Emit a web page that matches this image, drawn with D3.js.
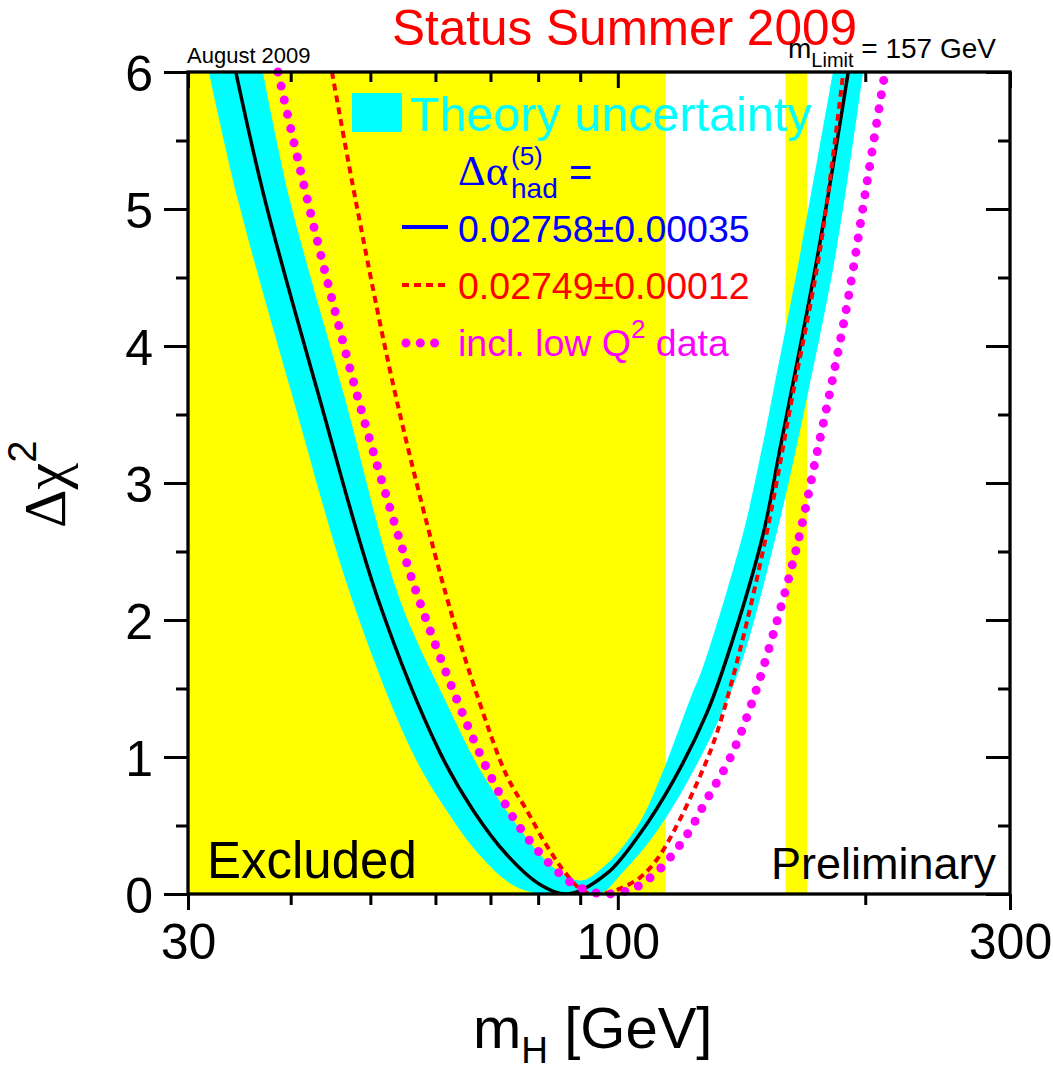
<!DOCTYPE html>
<html>
<head>
<meta charset="utf-8">
<script src="https://cdn.jsdelivr.net/npm/d3@7"></script>
<style>
  html, body { margin: 0; padding: 0; background: #fff; }
  svg { display: block; }
</style>
</head>
<body>
<svg id="chart" width="1053" height="1070"></svg>
<script>
// ---------------- data ----------------
// Direct-search exclusions (GeV)
const excludedFrom = [30, 160];
const excludedTo   = [114.4, 170];

// Theory-uncertainty band: lower and upper envelopes of delta chi^2 vs mH
const bandLowMass  = [31.8, 34.5, 40.3, 47.5, 56.3, 61.9, 67.9, 74.5, 80.7, 95.0, 101.1, 111.0, 121.8, 133.8, 142.0, 157.0, 169.7, 184.5, 198.8];
const bandLowChi2  = [6.0, 5.07, 3.61, 2.15, 1.03, 0.61, 0.285, 0.066, 0.0, 0.0, 0.15, 0.44, 0.83, 1.32, 1.72, 2.70, 3.61, 4.70, 6.0];
const bandHighMass = [37.0, 39.9, 46.6, 54.3, 61.6, 68.0, 75.0, 81.6, 86.7, 90.7, 95.1, 100.6, 106.4, 113.2, 122.4, 127.0, 142.0, 149.6, 153.9, 167.0, 182.7];
const bandHighChi2 = [6.0, 5.07, 3.61, 2.15, 1.42, 0.905, 0.52, 0.25, 0.126, 0.10, 0.175, 0.32, 0.525, 0.88, 1.42, 1.66, 2.63, 3.24, 3.61, 4.70, 6.0];

// Central fit, Delta alpha_had = 0.02758 +- 0.00035
const fitMass = [34.3, 37.2, 43.4, 51.1, 60.8, 66.7, 73.2, 80.4, 87.0, 97.0, 106.4, 116.9, 128.3, 136.0, 150.3, 157.4, 161.9, 175.5, 190.7];
const fitChi2 = [6.0, 5.07, 3.61, 2.15, 1.03, 0.61, 0.29, 0.07, 0.0, 0.15, 0.44, 0.83, 1.32, 1.74, 2.63, 3.24, 3.61, 4.70, 6.0];

// Delta alpha_had = 0.02749 +- 0.00012
const altMass = [44.9, 48.1, 53.8, 61.9, 67.7, 73.3, 77.5, 82.0, 86.7, 90.8, 94.5, 99.7, 106.4, 111.5, 116.8, 125.9, 131.9, 140.8, 151.7, 162.8, 176.2, 188.1];
const altChi2 = [6.0, 5.03, 3.61, 2.17, 1.42, 0.86, 0.61, 0.35, 0.14, 0.02, 0.0, 0.03, 0.12, 0.25, 0.45, 0.86, 1.17, 1.78, 2.63, 3.61, 4.70, 6.0];

// Including low-Q^2 data
const lowQ2Mass = [38.6, 41.0, 44.3, 48.6, 53.8, 57.2, 64.3, 69.9, 75.7, 83.9, 89.6, 96.5, 104.4, 111.5, 120.7, 128.3, 136.9, 145.1, 155.8, 165.8, 174.7, 182.1, 190.7, 200.8, 211.4];
const lowQ2Chi2 = [6.0, 5.31, 4.48, 3.56, 2.66, 2.16, 1.36, 0.87, 0.50, 0.18, 0.05, 0.0, 0.04, 0.16, 0.41, 0.69, 0.99, 1.37, 1.97, 2.58, 3.22, 3.73, 4.35, 5.18, 6.0];

// Axes
const yMajorTicks = [0, 1, 2, 3, 4, 5, 6];
const yMinorTicks = [0.5, 1.5, 2.5, 3.5, 4.5, 5.5];
const xMajorTicks = [30, 100, 300];
const xMinorTicks = [40, 50, 60, 70, 80, 90, 200];
const xTickLabels = ["30", "100", "300"];

// ---------------- drawing ----------------
const sans = "'Liberation Sans', Arial, Helvetica, sans-serif";
const serif = "'Liberation Serif', 'Times New Roman', Times, serif";

const x = d3.scaleLog().domain([30, 300]).range([188, 1010]);
const y = d3.scaleLinear().domain([0, 6]).range([894, 72]);
const [x0, x1] = x.range();
const [y0, y1] = y.range();

const svg = d3.select("#chart");
svg.append("rect").attr("width", 1053).attr("height", 1070).attr("fill", "#fff");

svg.append("defs").append("clipPath").attr("id", "plotClip")
  .append("rect").attr("x", x0).attr("y", y1).attr("width", x1 - x0).attr("height", y0 - y1);

// excluded mass ranges
svg.append("g").selectAll("rect")
  .data(d3.zip(excludedFrom, excludedTo))
  .join("rect")
  .attr("x", d => x(d[0]))
  .attr("width", d => x(d[1]) - x(d[0]))
  .attr("y", y1)
  .attr("height", y0 - y1)
  .attr("fill", "#ffff00");

const curve = d3.line()
  .x(d => x(d[0]))
  .y(d => y(d[1]))
  .curve(d3.curveCatmullRom.alpha(0.5));

const plotG = svg.append("g").attr("clip-path", "url(#plotClip)");

// theory band: lower envelope left->right, then upper envelope right->left
const lowPath = curve(d3.zip(bandLowMass, bandLowChi2));
const highPath = curve(d3.zip(bandHighMass, bandHighChi2).reverse());
plotG.append("path")
  .attr("d", lowPath + highPath.replace(/^M/, "L") + "Z")
  .attr("fill", "#00ffff");

// central fit
plotG.append("path")
  .attr("d", curve(d3.zip(fitMass, fitChi2)))
  .attr("fill", "none")
  .attr("stroke", "#000")
  .attr("stroke-width", 3.5);

// alternative hadronic contribution
plotG.append("path")
  .attr("d", curve(d3.zip(altMass, altChi2)))
  .attr("fill", "none")
  .attr("stroke", "#ff0000")
  .attr("stroke-width", 4)
  .attr("stroke-dasharray", "7 5");

// with low-Q^2 data (round dots)
svg.append("path")
  .attr("d", curve(d3.zip(lowQ2Mass, lowQ2Chi2)))
  .attr("fill", "none")
  .attr("stroke", "#ff00ff")
  .attr("stroke-width", 9)
  .attr("stroke-linecap", "round")
  .attr("stroke-dasharray", "0 14.5");

// frame
svg.append("rect")
  .attr("x", x0).attr("y", y1)
  .attr("width", x1 - x0).attr("height", y0 - y1)
  .attr("fill", "none")
  .attr("stroke", "#000")
  .attr("stroke-width", 3.3);

function styleAxis(g, labelDy) {
  g.select(".domain").remove();
  g.selectAll(".tick line").attr("stroke", "#000").attr("stroke-width", 3);
  g.selectAll(".tick text")
    .attr("fill", "#000")
    .attr("dy", labelDy)
    .style("font-family", sans)
    .style("font-size", "50px");
}

// left axis
svg.append("g").attr("transform", `translate(${x0},0)`)
  .call(d3.axisLeft(y).tickValues(yMajorTicks).tickSize(24).tickPadding(11).tickFormat(d3.format("d")))
  .call(styleAxis, "0.36em");
svg.append("g").attr("transform", `translate(${x0},0)`)
  .call(d3.axisLeft(y).tickValues(yMinorTicks).tickSize(12).tickFormat(""))
  .call(styleAxis, "0");

// right axis (inward ticks)
svg.append("g").attr("transform", `translate(${x1},0)`)
  .call(d3.axisRight(y).tickValues(yMajorTicks).tickSize(-24).tickFormat(""))
  .call(styleAxis, "0");
svg.append("g").attr("transform", `translate(${x1},0)`)
  .call(d3.axisRight(y).tickValues(yMinorTicks).tickSize(-12).tickFormat(""))
  .call(styleAxis, "0");

// bottom axis
svg.append("g").attr("transform", `translate(0,${y0})`)
  .call(d3.axisBottom(x).tickValues(xMajorTicks).tickSize(16).tickPadding(13).tickFormat((d, i) => xTickLabels[i]))
  .call(styleAxis, "0.71em");
svg.append("g").attr("transform", `translate(0,${y0})`)
  .call(d3.axisBottom(x).tickValues(xMinorTicks).tickSize(11).tickFormat(""))
  .call(styleAxis, "0");

// top axis (inward ticks)
svg.append("g").attr("transform", `translate(0,${y1})`)
  .call(d3.axisTop(x).tickValues(xMajorTicks).tickSize(-16).tickFormat(""))
  .call(styleAxis, "0");
svg.append("g").attr("transform", `translate(0,${y1})`)
  .call(d3.axisTop(x).tickValues(xMinorTicks).tickSize(-10).tickFormat(""))
  .call(styleAxis, "0");

// axis titles
const xt = svg.append("text")
  .attr("x", 473).attr("y", 1048)
  .style("font-family", sans).style("font-size", "58px").attr("fill", "#000");
xt.append("tspan").text("m");
xt.append("tspan").attr("dy", 15).style("font-size", "37px").text("H");
xt.append("tspan").attr("dy", -15).text(" [GeV]");

const yt = svg.append("text")
  .attr("transform", "translate(65,528) rotate(-90)")
  .attr("fill", "#000");
yt.append("tspan").style("font-family", serif).style("font-size", "60px").text("Δχ");
yt.append("tspan").attr("dy", -29).style("font-family", sans).style("font-size", "40px").text("2");

// title and annotations
svg.append("text")
  .attr("x", 392).attr("y", 45)
  .style("font-family", sans).style("font-size", "49.5px")
  .attr("fill", "#ff0000")
  .text("Status Summer 2009");

svg.append("text")
  .attr("x", 187).attr("y", 63)
  .style("font-family", sans).style("font-size", "22px")
  .attr("fill", "#000")
  .text("August 2009");

const lim = svg.append("text")
  .attr("x", 788).attr("y", 58)
  .style("font-family", sans).style("font-size", "28px")
  .attr("fill", "#000");
lim.append("tspan").text("m");
lim.append("tspan").attr("dy", 9).style("font-size", "20px").text("Limit");
lim.append("tspan").attr("dy", -9).text(" = 157 GeV");

svg.append("text")
  .attr("x", 207).attr("y", 878)
  .style("font-family", sans).style("font-size", "51px")
  .attr("fill", "#000")
  .text("Excluded");

svg.append("text")
  .attr("x", 771).attr("y", 879)
  .style("font-family", sans).style("font-size", "45px")
  .attr("fill", "#000")
  .text("Preliminary");

// legend
svg.append("rect")
  .attr("x", 352).attr("y", 93).attr("width", 50).attr("height", 39)
  .attr("fill", "#00ffff");
svg.append("text")
  .attr("x", 410).attr("y", 131)
  .style("font-family", sans).style("font-size", "48.5px")
  .attr("fill", "#00ffff")
  .text("Theory uncertainty");

svg.append("text")
  .attr("x", 458).attr("y", 185)
  .style("font-family", serif).style("font-size", "43px")
  .attr("fill", "#0000ff")
  .text("Δα");
svg.append("text")
  .attr("x", 511).attr("y", 165)
  .style("font-family", sans).style("font-size", "26px")
  .attr("fill", "#0000ff")
  .text("(5)");
svg.append("text")
  .attr("x", 511).attr("y", 198)
  .style("font-family", sans).style("font-size", "28px")
  .attr("fill", "#0000ff")
  .text("had");
svg.append("text")
  .attr("x", 569).attr("y", 186)
  .style("font-family", sans).style("font-size", "40px")
  .attr("fill", "#0000ff")
  .text("=");

svg.append("line")
  .attr("x1", 402).attr("x2", 448).attr("y1", 227).attr("y2", 227)
  .attr("stroke", "#0000ff").attr("stroke-width", 4);
svg.append("text")
  .attr("x", 458).attr("y", 242)
  .style("font-family", sans).style("font-size", "37.5px")
  .attr("fill", "#0000ff")
  .text("0.02758±0.00035");

svg.append("line")
  .attr("x1", 402).attr("x2", 448).attr("y1", 285).attr("y2", 285)
  .attr("stroke", "#ff0000").attr("stroke-width", 4)
  .attr("stroke-dasharray", "7 5");
svg.append("text")
  .attr("x", 458).attr("y", 298.5)
  .style("font-family", sans).style("font-size", "37.5px")
  .attr("fill", "#ff0000")
  .text("0.02749±0.00012");

svg.append("line")
  .attr("x1", 406).attr("x2", 435).attr("y1", 343).attr("y2", 343)
  .attr("stroke", "#ff00ff").attr("stroke-width", 9)
  .attr("stroke-linecap", "round")
  .attr("stroke-dasharray", "0 14.3");
const q2 = svg.append("text")
  .attr("x", 458).attr("y", 356)
  .style("font-family", sans).style("font-size", "37.5px")
  .attr("fill", "#ff00ff");
q2.append("tspan").text("incl. low Q");
q2.append("tspan").attr("dy", -18).style("font-size", "26px").text("2");
q2.append("tspan").attr("dy", 18).text(" data");
</script>
</body>
</html>
